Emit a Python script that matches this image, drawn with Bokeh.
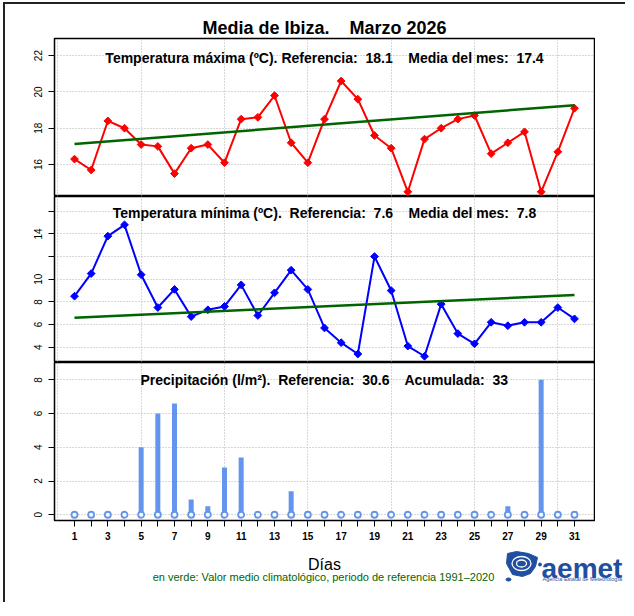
from bokeh.plotting import figure
from bokeh.models import Range1d, FixedTicker, Grid, Label
from bokeh.layouts import column
from bokeh.core.properties import value
from bokeh.embed import file_html
from bokeh.resources import INLINE

# ---------------- data ----------------
days = list(range(1, 32))
tmax = [16.3, 15.7, 18.4, 18.0, 17.1, 17.0, 15.5, 16.9, 17.1, 16.1,
        18.5, 18.6, 19.8, 17.2, 16.1, 18.5, 20.6, 19.6, 17.6, 16.9,
        14.5, 17.4, 18.0, 18.5, 18.7, 16.6, 17.2, 17.8, 14.5, 16.7, 19.1]
tmin = [8.5, 10.5, 13.8, 14.8, 10.4, 7.5, 9.1, 6.7, 7.3, 7.6,
        9.5, 6.8, 8.8, 10.8, 9.1, 5.7, 4.4, 3.4, 12.0, 9.0,
        4.1, 3.2, 7.8, 5.2, 4.3, 6.2, 5.9, 6.2, 6.2, 7.5, 6.5]
precip = [0, 0, 0, 0, 4.0, 6.0, 6.6, 0.9, 0.5, 2.8,
          3.4, 0, 0, 1.4, 0.2, 0, 0, 0, 0, 0,
          0, 0, 0, 0, 0, 0, 0.5, 0, 8.0, 0, 0.2]
clim_days = [1, 31]
clim_max = [17.13, 19.27]
clim_min = [6.60, 8.61]

NB = "\u00a0"
title_text = "Media de Ibiza." + NB * 3 + " Marzo 2026"
t1 = "Temperatura máxima (ºC). Referencia:" + NB + " 18.1" + NB * 3 + " Media del mes:" + NB + " 17.4"
t2 = "Temperatura mínima (ºC)." + NB + " Referencia:" + NB + " 7.6" + NB * 3 + " Media del mes:" + NB + " 7.8"
t3 = "Precipitación (l/m²)." + NB + " Referencia:" + NB + " 30.6" + NB * 3 + " Acumulada:" + NB + " 33"
xlabel = "Días"
note = "en verde: Valor medio climatológico, periodo de referencia 1991\u20132020"

ticks_max = [16, 18, 20, 22]
ticks_min = [4, 6, 8, 10, 12, 14, 16]
hidden_min = [12, 16]
ticks_pr = [0, 2, 4, 6, 8]
grid_x = [0, 5, 10, 15, 20, 25, 30]

FONT = "Liberation Sans"
RED = "#FF0000"
BLUE = "#0000FF"
GREEN = "#006400"
CORN = "#6495ED"
GRIDC = "#b0b0b0"
OY = 4
W = 620          # header/footer width (full)
PW = 590         # panel width (frame 54..594 on the page)
FX0, FX1 = 54, 624   # aligned frame extent of header/footer on the page


def strip_grids(p):
    p.center = [c for c in p.center if not isinstance(c, Grid)]


def panel(h, yr, yticks, mb_top=0, mb_bottom=0, xaxis=False, hidden=()):
    p = figure(width=PW, height=h, x_range=Range1d(-0.2, 32.2), y_range=Range1d(*yr),
               x_axis_location="below" if xaxis else None, y_axis_location="left",
               toolbar_location=None, output_backend="svg",
               min_border_left=49, min_border_right=1,
               min_border_top=mb_top, min_border_bottom=mb_bottom)
    strip_grids(p)
    p.background_fill_color = "white"
    p.border_fill_color = "white"
    p.outline_line_color = "#000000"
    p.outline_line_width = 1.5
    p.add_layout(Grid(dimension=0, ticker=FixedTicker(ticks=grid_x),
                      grid_line_color=GRIDC, grid_line_dash="1 2", grid_line_width=1))
    p.add_layout(Grid(dimension=1, ticker=FixedTicker(ticks=yticks),
                      grid_line_color=GRIDC, grid_line_dash="1 2", grid_line_width=1))
    ax = p.yaxis[0]
    ax.ticker = FixedTicker(ticks=yticks)
    ax.major_label_overrides = {t: "" for t in hidden}
    ax.major_label_orientation = "vertical"
    ax.major_tick_out = 6
    ax.major_tick_in = 0
    ax.minor_tick_out = 0
    ax.minor_tick_in = 0
    ax.axis_line_color = None
    ax.major_tick_line_color = "black"
    ax.major_label_text_font = FONT
    ax.major_label_text_font_size = "10px"
    ax.major_label_text_color = "black"
    ax.major_label_standoff = 6
    if xaxis:
        xa = p.xaxis[0]
        xa.ticker = FixedTicker(ticks=days)
        xa.major_label_overrides = {d: "" for d in days if d % 2 == 0}
        xa.major_tick_out = 6
        xa.major_tick_in = 0
        xa.minor_tick_out = 0
        xa.minor_tick_in = 0
        xa.axis_line_color = None
        xa.major_tick_line_color = "black"
        xa.major_label_text_font = FONT
        xa.major_label_text_font_size = "10px"
        xa.major_label_text_font_style = "bold"
        xa.major_label_text_color = "black"
        xa.major_label_standoff = 5
    return p


def ptitle(p, y, text):
    p.add_layout(Label(x=16, y=y, text=text, text_align="center", text_baseline="alphabetic",
                       text_font=FONT, text_font_size="14px", text_font_style="bold",
                       text_color="black"))


def blank(h, y0, y1):
    f = figure(width=W, height=h, x_range=Range1d(FX0, FX1), y_range=Range1d(y1, y0),
               x_axis_location=None, y_axis_location=None, toolbar_location=None,
               output_backend="svg", min_border=0, outline_line_color=None)
    strip_grids(f)
    return f


# header with main title
hd = blank(33, OY, 37)
hd.text(x=[324], y=[27.5], text=[title_text], text_font=value(FONT), text_font_size="18px",
        text_font_style="bold", text_align="center", text_baseline="alphabetic",
        text_color="black")

# panel 1: max temperature
p1 = panel(159, (14.24, 22.94), ticks_max, mb_top=1)
p1.line(days, tmax, line_color=RED, line_width=2)
p1.scatter(days, tmax, marker="square", angle=0.785398, size=5.5, fill_color=RED, line_color=RED)
p1.line(clim_days, clim_max, line_color=GREEN, line_width=2.5)
ptitle(p1, 21.87, t1)

# panel 2: min temperature
p2 = panel(166, (2.65, 17.30), ticks_min, hidden=hidden_min)
p2.line(days, tmin, line_color=BLUE, line_width=2)
p2.scatter(days, tmin, marker="square", angle=0.785398, size=5.5, fill_color=BLUE, line_color=BLUE)
p2.line(clim_days, clim_min, line_color=GREEN, line_width=2.5)
ptitle(p2, 15.82, t2)

# panel 3: precipitation
p3 = panel(184, (-0.34, 9.03), ticks_pr, mb_bottom=26, xaxis=True)
p3.vbar(x=days, top=precip, bottom=0, width=0.3, fill_color=CORN, line_color=None)
p3.scatter(days, [0] * len(days), marker="circle", size=6, fill_color="white",
           line_color=CORN, line_width=1.8)
ptitle(p3, 8.02, t3)

# footer
ft = blank(56, 546, 602)
ft.text(x=[324], y=[564], text=[xlabel], text_font=value(FONT), text_font_size="16px",
        text_align="center", text_baseline="alphabetic", text_color="black")
ft.text(x=[323], y=[576], text=[note], text_font=value(FONT), text_font_size="11px",
        text_align="center", text_baseline="alphabetic", text_color=GREEN)
LOGO = "#1f4fa0"
ft.patch([507, 516, 528, 537, 535, 530, 522, 512, 506],
         [553, 551, 553, 557, 566, 573, 576, 574, 563], fill_color=LOGO, line_color=LOGO)
ft.ellipse(x=[521, 521], y=[563, 563], width=[19, 10], height=[14, 7],
           fill_color=None, line_color="white", line_width=1.3)
ft.ellipse(x=[508], y=[579], width=[5], height=[3], fill_color=LOGO, line_color=LOGO)
ft.scatter(x=[539.5], y=[564], marker="circle", size=3, fill_color=LOGO, line_color=LOGO)
ft.text(x=[541], y=[568], text=["aemet"], text_font=value(FONT), text_font_size="28px",
        text_font_style="bold", text_align="left", text_baseline="alphabetic", text_color=LOGO)
ft.text(x=[542], y=[578], text=["Agencia Estatal de Meteorología"], text_font=value(FONT),
        text_font_size="5.5px", text_align="left", text_baseline="alphabetic", text_color=LOGO)

layout = column(hd, p1, p2, p3, ft, spacing=0,
                styles={"margin-left": "3px", "margin-top": "2px",
                        "border-left": "2px solid #222", "border-top": "2px solid #222"})

open("out.html", "w").write(file_html(layout, INLINE))
